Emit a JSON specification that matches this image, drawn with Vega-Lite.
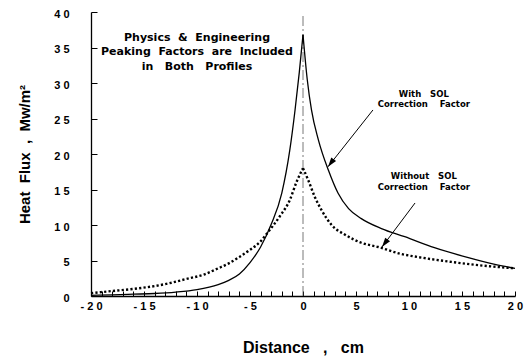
{
  "$schema": "https://vega.github.io/schema/vega-lite/v6.json",
  "width": 424,
  "height": 284,
  "autosize": {"type": "none"},
  "padding": {"left": 91, "top": 12, "right": 10, "bottom": 62},
  "background": "white",
  "config": {
    "view": {"stroke": null},
    "axis": {
      "grid": false,
      "domainColor": "black",
      "domainWidth": 1.3,
      "tickColor": "black",
      "tickWidth": 1,
      "labelFont": "Liberation Sans",
      "labelFontWeight": "bold",
      "labelFontSize": 11,
      "labelColor": "black",
      "labelOverlap": false,
      "labelFlush": false,
      "titleFont": "Liberation Sans",
      "titleFontWeight": "bold",
      "titleColor": "black"
    }
  },
  "datasets": {
    "flux": [
      {"curve": "with", "side": "L", "distance": -20, "flux": 0.1},
      {"curve": "with", "side": "L", "distance": -18, "flux": 0.15},
      {"curve": "with", "side": "L", "distance": -16, "flux": 0.25},
      {"curve": "with", "side": "L", "distance": -14, "flux": 0.35},
      {"curve": "with", "side": "L", "distance": -12, "flux": 0.55},
      {"curve": "with", "side": "L", "distance": -10, "flux": 0.9},
      {"curve": "with", "side": "L", "distance": -8, "flux": 1.6},
      {"curve": "with", "side": "L", "distance": -7, "flux": 2.2},
      {"curve": "with", "side": "L", "distance": -6, "flux": 3.1},
      {"curve": "with", "side": "L", "distance": -5, "flux": 4.7},
      {"curve": "with", "side": "L", "distance": -4, "flux": 6.9},
      {"curve": "with", "side": "L", "distance": -3, "flux": 10.1},
      {"curve": "with", "side": "L", "distance": -2, "flux": 14.5},
      {"curve": "with", "side": "L", "distance": -1.25, "flux": 20.5},
      {"curve": "with", "side": "L", "distance": -0.75, "flux": 26.2},
      {"curve": "with", "side": "L", "distance": -0.35, "flux": 31.5},
      {"curve": "with", "side": "L", "distance": 0, "flux": 36.8},
      {"curve": "with", "side": "R", "distance": 0, "flux": 36.8},
      {"curve": "with", "side": "R", "distance": 0.4, "flux": 30.5},
      {"curve": "with", "side": "R", "distance": 0.8, "flux": 26.2},
      {"curve": "with", "side": "R", "distance": 1.45, "flux": 22.0},
      {"curve": "with", "side": "R", "distance": 2.4, "flux": 17.7},
      {"curve": "with", "side": "R", "distance": 3.3, "flux": 14.5},
      {"curve": "with", "side": "R", "distance": 4.3, "flux": 12.3},
      {"curve": "with", "side": "R", "distance": 5.5, "flux": 10.9},
      {"curve": "with", "side": "R", "distance": 7.4, "flux": 9.5},
      {"curve": "with", "side": "R", "distance": 9.6, "flux": 8.35},
      {"curve": "with", "side": "R", "distance": 12.4, "flux": 6.8},
      {"curve": "with", "side": "R", "distance": 15.6, "flux": 5.4},
      {"curve": "with", "side": "R", "distance": 18, "flux": 4.5},
      {"curve": "with", "side": "R", "distance": 20, "flux": 3.9},
      {"curve": "without", "side": "L", "distance": -20, "flux": 0.4},
      {"curve": "without", "side": "L", "distance": -18, "flux": 0.7},
      {"curve": "without", "side": "L", "distance": -16, "flux": 1.0},
      {"curve": "without", "side": "L", "distance": -14, "flux": 1.4},
      {"curve": "without", "side": "L", "distance": -12.6, "flux": 1.8},
      {"curve": "without", "side": "L", "distance": -11, "flux": 2.4},
      {"curve": "without", "side": "L", "distance": -9.4, "flux": 3.0},
      {"curve": "without", "side": "L", "distance": -8, "flux": 3.9},
      {"curve": "without", "side": "L", "distance": -7, "flux": 4.6},
      {"curve": "without", "side": "L", "distance": -6, "flux": 5.5},
      {"curve": "without", "side": "L", "distance": -5, "flux": 6.5},
      {"curve": "without", "side": "L", "distance": -4, "flux": 7.7},
      {"curve": "without", "side": "L", "distance": -3.4, "flux": 8.8},
      {"curve": "without", "side": "L", "distance": -2.2, "flux": 11.2},
      {"curve": "without", "side": "L", "distance": -1.25, "flux": 13.5},
      {"curve": "without", "side": "L", "distance": -0.6, "flux": 16.1},
      {"curve": "without", "side": "L", "distance": 0, "flux": 18.0},
      {"curve": "without", "side": "R", "distance": 0, "flux": 18.0},
      {"curve": "without", "side": "R", "distance": 0.5, "flux": 16.3},
      {"curve": "without", "side": "R", "distance": 1.1, "flux": 14.0},
      {"curve": "without", "side": "R", "distance": 1.75, "flux": 12.1},
      {"curve": "without", "side": "R", "distance": 2.7, "flux": 10.0},
      {"curve": "without", "side": "R", "distance": 4.0, "flux": 8.6},
      {"curve": "without", "side": "R", "distance": 5.5, "flux": 7.5},
      {"curve": "without", "side": "R", "distance": 7.1, "flux": 6.9},
      {"curve": "without", "side": "R", "distance": 9.3, "flux": 5.9},
      {"curve": "without", "side": "R", "distance": 10.8, "flux": 5.5},
      {"curve": "without", "side": "R", "distance": 14, "flux": 4.8},
      {"curve": "without", "side": "R", "distance": 17.5, "flux": 4.2},
      {"curve": "without", "side": "R", "distance": 20, "flux": 3.9}
    ],
    "notes": [
      {"kind": "note", "distance": -10, "flux": 36.3, "text": "Physics\u00a0\u00a0&\u00a0\u00a0Engineering"},
      {"kind": "note", "distance": -10, "flux": 34.4, "text": "Peaking\u00a0\u00a0Factors\u00a0\u00a0are\u00a0\u00a0Included"},
      {"kind": "note", "distance": -10, "flux": 32.3, "text": "in\u00a0\u00a0\u00a0Both\u00a0\u00a0\u00a0Profiles"},
      {"kind": "curve", "distance": 11.4, "flux": 28.45, "text": "With\u00a0\u00a0\u00a0SOL"},
      {"kind": "curve", "distance": 11.4, "flux": 27.0, "text": "Correction\u00a0\u00a0\u00a0\u00a0Factor"},
      {"kind": "curve", "distance": 11.4, "flux": 16.9, "text": "Without\u00a0\u00a0\u00a0SOL"},
      {"kind": "curve", "distance": 11.4, "flux": 15.35, "text": "Correction\u00a0\u00a0\u00a0\u00a0Factor"}
    ],
    "arrows": [
      {"distance": 2.36, "flux": 18.2, "tailDistance": 6.6, "tailFlux": 26.2},
      {"distance": 7.45, "flux": 6.9, "tailDistance": 10.57, "tailFlux": 13.1}
    ],
    "centre": [
      {"distance": 0, "flux": 0, "fluxTop": 39.5}
    ]
  },
  "encoding": {
    "x": {
      "field": "distance",
      "type": "quantitative",
      "scale": {"domain": [-20, 20], "nice": false, "zero": false},
      "axis": {
        "title": "Distance\u00a0\u00a0\u00a0,\u00a0\u00a0\u00a0cm",
        "titleFontSize": 16,
        "titleY": 56,
        "titleBaseline": "alphabetic",
        "values": [-20,-19,-18,-17,-16,-15,-14,-13,-12,-11,-10,-9,-8,-7,-6,-5,-4,-3,-2,-1,0,1,2,3,4,5,6,7,8,9,10,11,12,13,14,15,16,17,18,19,20],
        "labelExpr": "datum.value % 5 != 0 ? '' : (datum.value < 0 ? '- ' : '') + (abs(datum.value) >= 10 ? floor(abs(datum.value) / 10) + ' ' + (abs(datum.value) % 10) : '' + abs(datum.value))",
        "tickSize": -5,
        "labelPadding": 9
      }
    },
    "y": {
      "field": "flux",
      "type": "quantitative",
      "scale": {"domain": [0, 40], "nice": false},
      "axis": {
        "title": "Heat\u00a0\u00a0Flux\u00a0\u00a0,\u00a0\u00a0Mw/m²",
        "titleFontSize": 15,
        "titleX": -67,
        "titleY": 142,
        "titleAngle": -90,
        "titleAlign": "center",
        "titleBaseline": "middle",
        "values": [0, 5, 10, 15, 20, 25, 30, 35, 40],
        "labelExpr": "datum.value >= 10 ? floor(datum.value / 10) + ' ' + (datum.value % 10) : '' + datum.value",
        "tickSize": -6,
        "labelPadding": 28,
        "labelOffset": 2
      }
    }
  },
  "layer": [
    {
      "data": {"name": "centre"},
      "mark": {"type": "rule", "color": "#555555", "strokeWidth": 0.8, "strokeDash": [10, 3, 2, 3]},
      "encoding": {
        "y2": {"field": "fluxTop"}
      }
    },
    {
      "data": {"name": "flux"},
      "transform": [{"filter": "datum.curve == 'with'"}],
      "mark": {"type": "line", "color": "black", "strokeWidth": 1.3, "interpolate": "monotone"},
      "encoding": {
        "detail": {"field": "side"}
      }
    },
    {
      "data": {"name": "flux"},
      "transform": [{"filter": "datum.curve == 'without'"}],
      "mark": {"type": "line", "color": "black", "strokeWidth": 2.4, "strokeDash": [2.2, 2.2], "strokeCap": "butt", "interpolate": "monotone"},
      "encoding": {
        "detail": {"field": "side"}
      }
    },
    {
      "data": {"name": "arrows"},
      "mark": {"type": "rule", "color": "black", "strokeWidth": 1},
      "encoding": {
        "x2": {"field": "tailDistance"},
        "y2": {"field": "tailFlux"}
      }
    },
    {
      "data": {"name": "arrows"},
      "mark": {"type": "point", "shape": "M0,0L0.45,1.4L-0.45,1.4Z", "angle": 217, "size": 180, "filled": true, "color": "black", "opacity": 1, "strokeWidth": 0}
    },
    {
      "data": {"name": "notes"},
      "transform": [{"filter": "datum.kind == 'note'"}],
      "mark": {"type": "text", "font": "DejaVu Sans", "fontWeight": "bold", "fontSize": 11, "color": "black", "align": "center", "baseline": "middle"},
      "encoding": {
        "text": {"field": "text"}
      }
    },
    {
      "data": {"name": "notes"},
      "transform": [{"filter": "datum.kind == 'curve'"}],
      "mark": {"type": "text", "font": "DejaVu Sans", "fontWeight": "bold", "fontSize": 8.5, "color": "black", "align": "center", "baseline": "middle"},
      "encoding": {
        "text": {"field": "text"}
      }
    }
  ]
}
